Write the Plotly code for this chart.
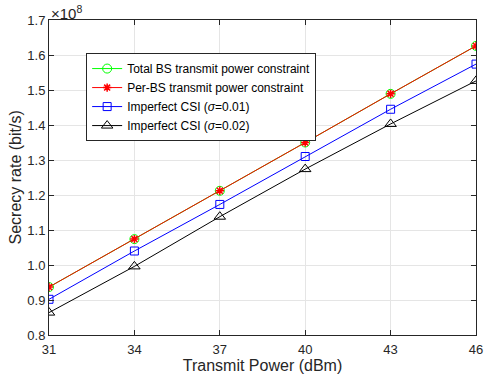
import plotly.graph_objects as go

power_dbm = [31, 34, 37, 40, 43, 46]
total_bs = [0.937, 1.074, 1.212, 1.350, 1.489, 1.626]
per_bs = [0.937, 1.074, 1.212, 1.350, 1.489, 1.626]
csi_001 = [0.902, 1.040, 1.173, 1.310, 1.445, 1.574]
csi_002 = [0.864, 0.996, 1.138, 1.274, 1.403, 1.526]
y_ticks = [0.8, 0.9, 1.0, 1.1, 1.2, 1.3, 1.4, 1.5, 1.6, 1.7]
x_ticks = [31, 34, 37, 40, 43, 46]

font = "Liberation Sans, Arial, sans-serif"
fig = go.Figure()
fig.add_trace(go.Scatter(x=power_dbm, y=total_bs, mode="lines+markers",
                         name="Total BS transmit power constraint",
                         line=dict(color="#00ff00", width=1),
                         marker=dict(symbol="circle-open", size=9, color="#00ff00", line=dict(width=1))))
fig.add_trace(go.Scatter(x=power_dbm, y=per_bs, mode="lines+markers",
                         name="Per-BS transmit power constraint",
                         line=dict(color="#ff0000", width=1),
                         marker=dict(symbol="asterisk-open", size=7, color="#ff0000", line=dict(width=1.5))))
fig.add_trace(go.Scatter(x=power_dbm, y=csi_001, mode="lines+markers",
                         name="Imperfect CSI (<i>σ</i>=0.01)",
                         line=dict(color="#0000ff", width=1),
                         marker=dict(symbol="square-open", size=8, color="#0000ff", line=dict(width=1))))
fig.add_trace(go.Scatter(x=power_dbm, y=csi_002, mode="lines+markers",
                         name="Imperfect CSI (<i>σ</i>=0.02)",
                         line=dict(color="#000000", width=1),
                         marker=dict(symbol="triangle-up-open", size=10, color="#000000", line=dict(width=1))))

axis_common = dict(showline=True, linecolor="#262626", linewidth=1, mirror="ticks",
                   ticks="inside", ticklen=5, tickcolor="#262626",
                   showgrid=True, gridcolor="#e5e5e5", gridwidth=1, zeroline=False,
                   tickfont=dict(family=font, size=13, color="#262626"))
fig.update_xaxes(range=[31, 46], tickvals=x_ticks, ticktext=[str(v) for v in x_ticks],
                 title=dict(text="Transmit Power (dBm)", font=dict(family=font, size=16, color="#262626"), standoff=4),
                 ticklabelstandoff=2, automargin=False,
                 **axis_common)
fig.update_yaxes(range=[0.8, 1.7], tickvals=y_ticks, ticktext=[f"{v:.1f}" for v in y_ticks],
                 ticklabelstandoff=0, automargin=False,
                 **axis_common)

# y-axis title as a rotated annotation, centred at about 15 px from the left edge
fig.add_annotation(x=-34 / 427, y=0.5, xref="paper", yref="paper", xanchor="center", yanchor="middle",
                   text="Secrecy rate (bit/s)", textangle=-90, showarrow=False,
                   font=dict(family=font, size=16, color="#262626"))

fig.add_annotation(x=0, y=1, xref="paper", yref="paper", xanchor="left", yanchor="bottom",
                   text="×10<sup>8</sup>", showarrow=False, xshift=0, yshift=-4,
                   font=dict(family=font, size=15, color="#262626"))

fig.update_layout(
    width=491, height=381,
    margin=dict(l=49, r=15, t=20, b=46),
    paper_bgcolor="white", plot_bgcolor="white",
    showlegend=True,
    legend=dict(x=0.087, y=0.895, xanchor="left", yanchor="top",
                bgcolor="white", bordercolor="#262626", borderwidth=1,
                font=dict(family=font, size=12, color="#000000"),
                tracegroupgap=0, itemwidth=30),
)
fig.write_html("out.html", config={"displayModeBar": False},
               post_script="document.body.style.margin='0';")
